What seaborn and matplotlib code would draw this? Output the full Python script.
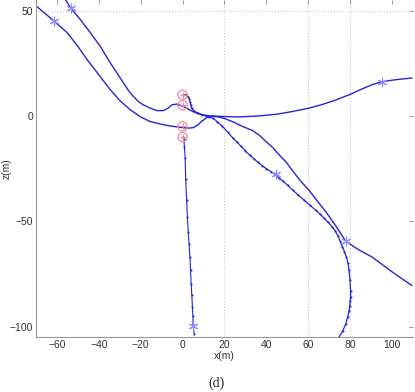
import matplotlib
matplotlib.use('Agg')
import matplotlib.pyplot as plt
import seaborn as sns

# ---- data ----
ax_x = [-55.9, -53.5, -48.8, -44.0, -39.3, -34.5, -31.3, -28.2, -25.8, -23.5, -21.1, -18.7,
        -15.5, -12.3, -9.2, -6.8, -5.2, -2.8, -0.5, 1.9, 4.3, 6.6, 9.8, 13,
        20, 27, 36.7, 45, 52, 60.5, 67, 73, 79.5, 85, 90.5, 95, 102, 109.5]
ax_y = [55.2, 51.3, 45.7, 39.4, 33.0, 25.1, 20.3, 15.6, 12.0, 9.2, 6.8, 5.2,
        3.7, 2.5, 2.5, 3.7, 5.2, 5.6, 4.8, 3.7, 2.4, 1.3, 0.5, 0,
        -0.3, -0.5, 0, 0.8, 2, 3.7, 5.5, 7.5, 10, 12.5, 14.8, 16.2, 17.2, 18]

bx = [-69.7, -61.4, -55, -50, -45.6, -40, -34.5, -30, -25, -20, -15.5, -10, -6, 0.3, 2.5, 5,
      7, 9, 11, 13, 17, 20, 24, 28.6, 33.5, 37, 39.9, 43, 46.2, 49.5, 52.5, 56, 60.5, 64,
      68.4, 73, 77.9, 84, 90.5, 100, 109.5]
by = [52, 45, 39.4, 33, 26.7, 19.5, 12.4, 7.3, 2.9, -0.5, -2.7, -4, -4.8, -5.6, -5.8, -5.6,
      -4.5, -2.7, -1.2, 0, -0.5, -1.2, -2.8, -5, -7, -9.5, -12.2, -15, -18.6, -22, -26, -30.5,
      -35.5, -40, -45.5, -52, -59.5, -63.5, -67, -74, -80.5]

cx = [0.3, 1.8, 2.7, 3.3, 3.5, 4, 4.3, 5.5, 7.4, 9.5, 11, 12.5, 14.5, 16.5, 19, 21.5, 24, 26,
      28, 30, 32, 34, 36, 38, 39.9, 42.2, 44.6, 46.2, 48, 50.2, 52.5, 55.3, 58, 60.8, 63.6,
      65.6, 67.5, 69.5, 71.5, 73, 74.2, 75.3, 76.3, 77.3, 78.2, 79, 79.5, 79.9, 80.2, 80.2,
      80, 79.8, 79.5, 78.8, 77.9, 76.5, 74.7]
cy = [10, 10, 9.2, 8, 6.8, 5, 3.7, 2.3, 1.3, 0.4, 0, -0.5, -1.1, -2.7, -5, -7.6, -10.5, -12.5,
      -14.5, -16.6, -18.6, -20.3, -22, -23.6, -25, -26.5, -28, -29.7, -31, -33, -35.2, -37.6,
      -40, -42.4, -44.8, -46.6, -48.5, -50.5, -52.7, -54.8, -57, -59.5, -62.2, -64.5, -67,
      -70, -73.3, -78, -82.9, -86, -88, -90, -92.4, -95.5, -98.7, -102, -105]

dx = [0, 0.6, 0.9, 1.2, 1.5, 1.9, 2.3, 2.7, 3.1, 3.5, 3.8, 4.1, 4.4, 4.7, 4.9, 5.0, 5.5]
dy = [-10, -11, -15, -20, -30, -40, -48, -55, -61, -67, -73, -80, -85, -90.8, -95, -98.7, -103.5]

star_x = [-53.5, -61.4, 95, 44.6, 77.9, 5.0]
star_y = [51.3, 45, 16.2, -27.5, -59.5, -99.5]

circ_x = [0, 0, 0, 0]
circ_y = [10, 5, -5, -10]

x_ticks = [-60, -40, -20, 0, 20, 40, 60, 80, 100]
y_ticks = [-100, -50, 0, 50]
grid_x = [20, 60, 80]
grid_y = [50]

# ---- plot ----
sns.set_style('white')
plt.rcParams['font.family'] = ['Liberation Sans', 'DejaVu Sans']

fig = plt.figure(figsize=(4.15, 3.92), dpi=100)
ax = fig.add_axes([0.0867, 0.140, 0.9084, 0.860])

for gx in grid_x:
    ax.axvline(gx, color='#c8c8c8', lw=0.8, ls=':', zorder=0)
for gy in grid_y:
    ax.axhline(gy, color='#c8c8c8', lw=0.8, ls=':', zorder=0)

line_c = '#2626d9'
sns.lineplot(x=ax_x, y=ax_y, sort=False, estimator=None, ax=ax, color=line_c, lw=1.0)
sns.lineplot(x=bx, y=by, sort=False, estimator=None, ax=ax, color=line_c, lw=1.0)
sns.lineplot(x=cx, y=cy, sort=False, estimator=None, ax=ax, color=line_c, lw=0.9,
             marker='.', markersize=3, markeredgewidth=0)
sns.lineplot(x=dx, y=dy, sort=False, estimator=None, ax=ax, color=line_c, lw=0.8,
             marker='.', markersize=3, markeredgewidth=0)

sns.scatterplot(x=star_x, y=star_y, ax=ax, marker=(6, 2, 0), s=40, color='#8c8cff',
                linewidth=0.8, zorder=5)
sns.scatterplot(x=circ_x, y=circ_y, ax=ax, marker='o', s=45, facecolor='none',
                edgecolor='#f08c9c', linewidth=0.9, zorder=6)
sns.scatterplot(x=circ_x, y=circ_y, ax=ax, marker='+', s=25, color='#f08c9c',
                linewidth=0.8, zorder=6)

ax.set_xlim(-70, 110)
ax.set_ylim(-105, 55)
ax.set_xticks(x_ticks)
ax.set_yticks(y_ticks)
ax.tick_params(direction='in', top=True, right=True, length=3, width=0.6,
               color='#888888', labelsize=7.5, labelcolor='#333333', pad=2)
for s in ['top', 'right']:
    ax.spines[s].set_visible(False)
for s in ['left', 'bottom']:
    ax.spines[s].set_color('#999999')
    ax.spines[s].set_linewidth(0.8)

ax.set_xlabel('x(m)', fontsize=7.5, color='#333333', labelpad=1)
ax.set_ylabel('z(m)', fontsize=7.5, color='#333333')
ax.yaxis.set_label_coords(-0.064, 0.5)

fig.text(216 / 415, 1 - 383 / 392, '(d)', family=['Liberation Serif', 'DejaVu Serif'],
         fontsize=10, ha='center', va='center')

fig.savefig('out.png', dpi=100)
